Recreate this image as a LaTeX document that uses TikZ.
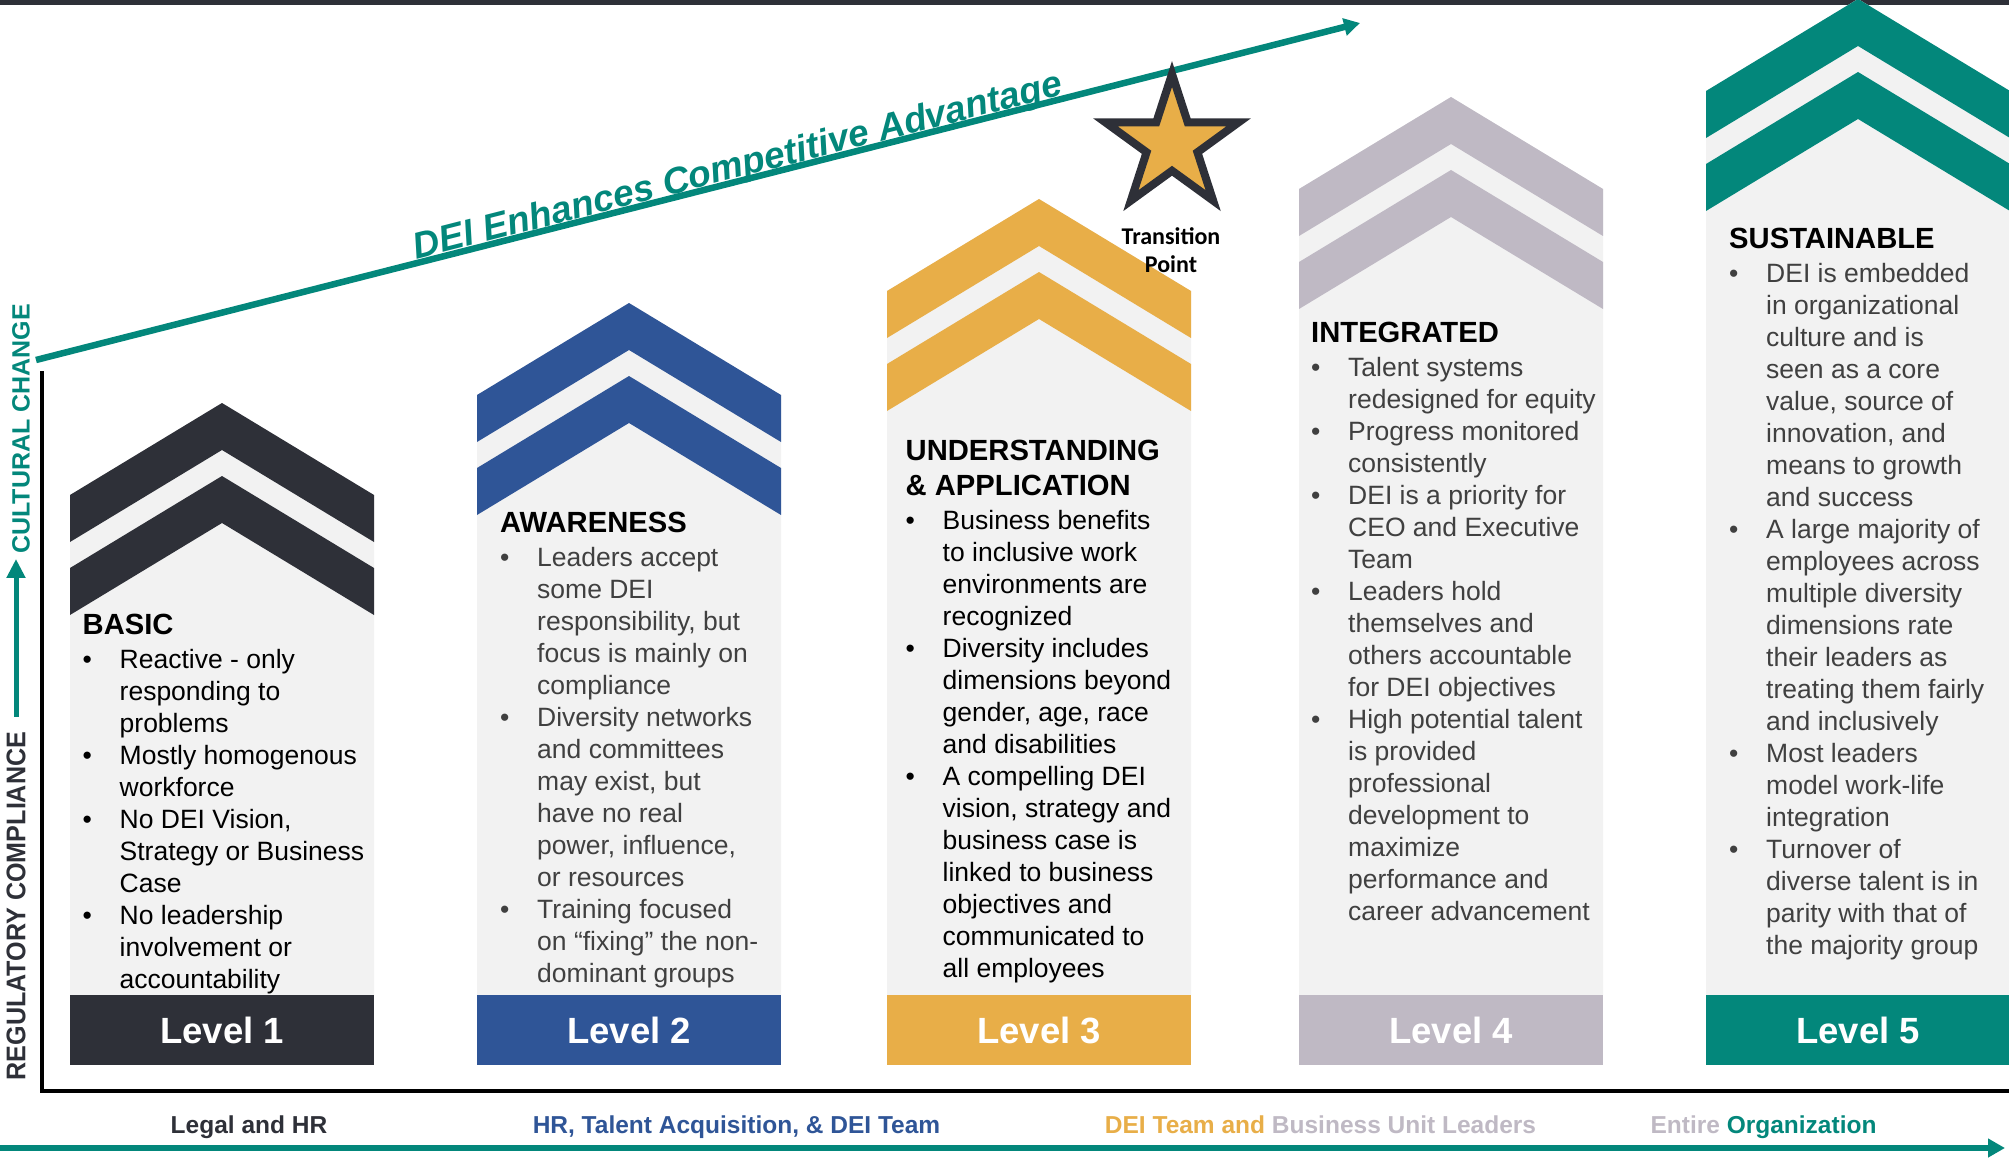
\documentclass[tikz,border=0pt]{standalone}
\usepackage{fontspec}
\usepackage{graphicx}
\setmainfont{Liberation Sans}
\newfontfamily\starfont{Carlito}
\usetikzlibrary{arrows.meta,shapes.geometric}
\definecolor{basicdark}{HTML}{2E3038}
\definecolor{awareblue}{HTML}{2F5597}
\definecolor{understandgold}{HTML}{E8AE48}
\definecolor{integratedgray}{HTML}{BFB9C4}
\definecolor{sustainteal}{HTML}{03877B}
\definecolor{panelgray}{HTML}{F2F2F2}
\definecolor{bodygray}{HTML}{404040}
\newcommand{\ttl}[1]{{\fontsize{29.2}{35}\selectfont\bfseries\color{black}#1}}
\newcommand{\bul}{\makebox[37pt][l]{\textbullet}}
\newcommand{\cont}{\hspace*{37pt}}
\tikzset{
  level box/.style={minimum width=304pt,minimum height=70pt,inner sep=0pt,text=white,font=\fontsize{36.5}{40}\selectfont\bfseries},
  level text/.style={anchor=north west,inner sep=0pt,align=left,font=\fontsize{26.5}{32}\selectfont},
  group label/.style={anchor=base,inner sep=0pt,font=\fontsize{24.5}{28}\selectfont\bfseries},
  axis label/.style={rotate=90,inner sep=0pt},
  teal line/.style={draw=sustainteal,line width=6.5pt}
}
\begin{document}
\begin{tikzpicture}[x=1pt,y=-1pt]
\useasboundingbox (0,0) rectangle (2009,1158);
\clip (0,0) rectangle (2009,1158);
\fill[basicdark] (0,0) rectangle (2009,5); %top bar
\foreach \lx/\ay/\col [count=\i] in {70/403/basicdark,477/303/awareblue,887/199/understandgold,1299/97/integratedgray,1706/-1/sustainteal}{
  \fill[panelgray] (\lx,\ay+92) -- (\lx+152,\ay) -- (\lx+304,\ay+92) -- (\lx+304,995) -- (\lx,995) -- cycle; %panel
  \fill[\col] (\lx,\ay+92) -- (\lx+152,\ay) -- (\lx+304,\ay+92) -- (\lx+304,\ay+139) -- (\lx+152,\ay+47) -- (\lx,\ay+139) -- cycle; %upper chevron
  \fill[\col] (\lx,\ay+165) -- (\lx+152,\ay+73) -- (\lx+304,\ay+165) -- (\lx+304,\ay+212) -- (\lx+152,\ay+120) -- (\lx,\ay+212) -- cycle; %lower chevron
  \node[level box,fill=\col] (level\i) at (\lx+152,1030) {Level \i}; %level
}
\node[level text,text=black] (basic) at (82.5,609.5) {\ttl{\strut BASIC}\\[2pt]
  \bul Reactive - only\\ \cont responding to\\ \cont problems\\
  \bul Mostly homogenous\\ \cont workforce\\
  \bul No DEI Vision,\\ \cont Strategy or Business\\ \cont Case\\
  \bul No leadership\\ \cont involvement or\\ \cont accountability}; %level 1
\node[level text,text=bodygray] (awareness) at (500,508) {\ttl{\strut AWARENESS}\\[2pt]
  \bul Leaders accept\\ \cont some DEI\\ \cont responsibility, but\\ \cont focus is mainly on\\ \cont compliance\\
  \bul Diversity networks\\ \cont and committees\\ \cont may exist, but\\ \cont have no real\\ \cont power, influence,\\ \cont or resources\\
  \bul Training focused\\ \cont on “fixing” the non-\\ \cont dominant groups}; %level 2
\node[level text,text=black] (understanding) at (905.5,435.5) {\ttl{\strut UNDERSTANDING}\\[3pt] \ttl{\& APPLICATION}\\[2pt]
  \bul Business benefits\\ \cont to inclusive work\\ \cont environments are\\ \cont recognized\\
  \bul Diversity includes\\ \cont dimensions beyond\\ \cont gender, age, race\\ \cont and disabilities\\
  \bul A compelling DEI\\ \cont vision, strategy and\\ \cont business case is\\ \cont linked to business\\ \cont objectives and\\ \cont communicated to\\ \cont all employees}; %level 3
\node[level text,text=bodygray] (integrated) at (1311,318) {\ttl{\strut INTEGRATED}\\[2pt]
  \bul Talent systems\\ \cont redesigned for equity\\
  \bul Progress monitored\\ \cont consistently\\
  \bul DEI is a priority for\\ \cont CEO and Executive\\ \cont Team\\
  \bul Leaders hold\\ \cont themselves and\\ \cont others accountable\\ \cont for DEI objectives\\
  \bul High potential talent\\ \cont is provided\\ \cont professional\\ \cont development to\\ \cont maximize\\ \cont performance and\\ \cont career advancement}; %level 4
\node[level text,text=bodygray] (sustainable) at (1729,223.5) {\ttl{\strut SUSTAINABLE}\\[2pt]
  \bul DEI is embedded\\ \cont in organizational\\ \cont culture and is\\ \cont seen as a core\\ \cont value, source of\\ \cont innovation, and\\ \cont means to growth\\ \cont and success\\
  \bul A large majority of\\ \cont employees across\\ \cont multiple diversity\\ \cont dimensions rate\\ \cont their leaders as\\ \cont treating them fairly\\ \cont and inclusively\\
  \bul Most leaders\\ \cont model work-life\\ \cont integration\\
  \bul Turnover of\\ \cont diverse talent is in\\ \cont parity with that of\\ \cont the majority group}; %level 5
\coordinate (trendstart) at (36,360);
\coordinate (trendend) at (1360,23);
\draw[teal line,-{Triangle[length=16pt,width=17pt]}] (trendstart) -- (trendend) node[pos=0.286,sloped,anchor=base west,inner sep=0pt,yshift=3.5pt,text=sustainteal,font=\fontsize{37}{40}\selectfont\bfseries\itshape] (advantage) {DEI Enhances Competitive Advantage}; %trend
\node[star,star points=5,star point ratio=2.618,minimum size=140pt,inner sep=0pt,outer sep=0pt,draw=basicdark,line width=8pt,fill=understandgold] (transition) at (1172,144) {}; %star
\node[anchor=north,align=center,inner sep=0pt,font=\starfont\bfseries\fontsize{24}{28.4}\selectfont] (transitionlabel) at (1171,224.4) {\strut Transition\\Point};
\coordinate (axistop) at (42,371);
\coordinate (origin) at (42,1091);
\coordinate (axisright) at (2009,1091);
\draw[line width=4pt] (axistop) -- (origin) -- (axisright); %axes
\node[axis label,text=basicdark,font=\fontsize{27}{30}\selectfont\bfseries] (compliance) at (16,906) {\scalebox{0.93}[1]{REGULATORY COMPLIANCE}};
\node[axis label,text=sustainteal,font=\fontsize{25}{28}\selectfont\bfseries] (culture) at (21,429) {CULTURAL CHANGE};
\draw[draw=sustainteal,line width=5pt,-{Triangle[length=19pt,width=18pt]},shorten <=15pt,shorten >=5pt] (compliance.east) -- (compliance.east |- culture.west); %up arrow
\node[group label,text=basicdark] (legal) at (249,1133) {Legal and HR};
\node[group label,text=awareblue] (talent) at (736.5,1133) {HR, Talent Acquisition, \& DEI Team};
\node[group label] (business) at (1320.5,1133) {\textcolor{understandgold}{DEI Team and} \textcolor{integratedgray}{Business Unit Leaders}};
\node[group label] (entire) at (1763.5,1133) {\textcolor{integratedgray}{Entire} \textcolor{sustainteal}{Organization}};
\coordinate (flowstart) at (0,1148);
\coordinate (flowend) at (2005,1148);
\draw[teal line,-{Triangle[length=17pt,width=18pt]}] (flowstart) -- (flowend); %bottom arrow
\end{tikzpicture}
\end{document}
